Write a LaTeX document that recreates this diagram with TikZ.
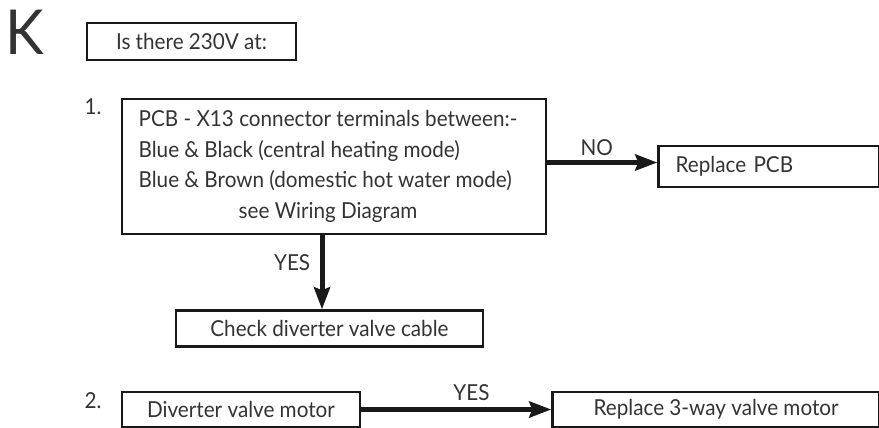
\documentclass[tikz,border=0pt]{standalone}
\usepackage{fontspec}
\setmainfont{Lato}[FakeStretch=0.94]
\usetikzlibrary{positioning, arrows.meta}
\definecolor{inkgrey}{HTML}{333333}
\tikzset{
  box/.style={rectangle, draw=black!90, line width=2.6pt, inner sep=0pt, text centered, text=inkgrey, font=\fontsize{22}{30.5}\selectfont},
  flow/.style={line width=5pt, draw=black!90, -{Stealth[length=22pt, width=16pt, inset=3pt]}},
  tag/.style={text=inkgrey, font=\fontsize{22}{24}\selectfont}
}

\begin{document}
\begin{tikzpicture}[x=1pt, y=1pt]
        \useasboundingbox (0,0) rectangle (879,-428);

        \node (letter) [anchor=base west, inner sep=0pt, text=inkgrey, font=\fontsize{62}{62}\selectfont] at (5,-55) {K};
        \node (ask) [box, minimum width=209pt, minimum height=37pt] at (191.5,-41.5) {Is there 230V at:};

        % Paso 1
        \node (pcb) [box, minimum width=424pt, minimum height=135pt] at (334,-166.5) {\begin{tabular}{@{}l@{}}
            PCB - X13 connector terminals between:-\\
            Blue \& Black (central heating mode)\\
            Blue \& Brown (domestic hot water mode)\\
            \multicolumn{1}{@{}c@{}}{see Wiring Diagram}
          \end{tabular}\hspace*{12pt}};
        \node (num1) [tag, anchor=base east] at (105,-114) {1.};
        \node (newpcb) [box, right=110pt of pcb, minimum width=221pt, minimum height=41pt, text width=187pt, align=left, inner xsep=17pt] {Replace PCB};
        \node (check) [box, below=74pt of pcb, xshift=-4.5pt, minimum width=307pt, minimum height=36pt] {Check diverter valve cable};

        % Paso 2
        \node (motor) [box, minimum width=238pt, minimum height=35pt] at (241,-409.5) {Diverter valve motor};
        \node (num2) [tag, anchor=base east] at (105,-408) {2.};
        \node (newmotor) [box, right=190pt of motor, minimum width=327pt, minimum height=35pt] {Replace 3-way valve motor};

        % Flechas
        \draw [flow] ([yshift=4pt]pcb.east) -- node[tag, above=1pt, pos=0.45] {NO} ([yshift=4pt]pcb.east -| newpcb.west);
        \draw [flow] ([xshift=-12pt]pcb.south) -- node[tag, left=6pt, pos=0.37] {YES} ([xshift=-12pt]pcb.south |- check.north);
        \draw [flow] (motor) -- node[tag, above=3pt, pos=0.58] {YES} (newmotor);

\end{tikzpicture}
\end{document}
